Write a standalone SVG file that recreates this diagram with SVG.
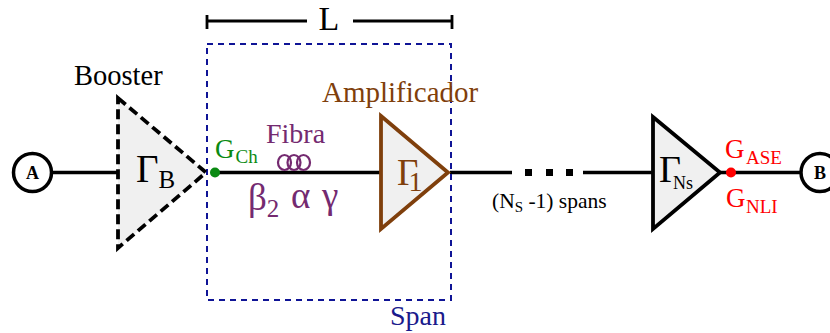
<svg xmlns="http://www.w3.org/2000/svg" width="830" height="333" viewBox="0 0 830 333">
<style>
text{font-family:"Liberation Serif","Times New Roman",serif}
.w{stroke:#000;stroke-width:3.500;fill:none}
.t{fill:#f0f0f0;stroke-width:3.800;stroke-linejoin:miter}
.c{fill:#fff;stroke:#000;stroke-width:3.500}
.lab{font-weight:bold;font-size:18px;text-anchor:middle}
.p{fill:#742a70}
.b{fill:#7f3f0c}
.r{fill:#ff0000}
.g{fill:#0a8a12}
</style>
<rect width="830" height="333" fill="#fff"/>
<g id="connectors">
<path class="w" d="M52 172.500H118M215 172.500H380M450 172.500H512M583 172.500H653M718 172.500H801"/>
<path d="M525 169h7v7h-7zM546 169h7v7h-7zM566 169h7v7h-7z" fill="#000"/>
<g fill="none" stroke="#742a70" stroke-width="2.200">
<ellipse cx="284.500" cy="162.500" rx="6.500" ry="7.500"/>
<ellipse cx="294" cy="162.500" rx="6.500" ry="7.500"/>
<ellipse cx="303.500" cy="162.500" rx="6.500" ry="7.500"/>
</g>
</g>
<g id="span">
<rect x="207" y="44" width="244" height="256" fill="none" stroke="#0f1496" stroke-width="2" stroke-dasharray="6 5"/>
<text x="390" y="325" font-size="28" fill="#1a1a8c">Span</text>
</g>
<g id="dim-L">
<path d="M207 21H307M353 21H452M207 15V29M452 15V29" stroke="#000" stroke-width="2.800" fill="none"/>
<text x="329" y="29.500" font-size="34" text-anchor="middle">L</text>
</g>
<g id="node-A">
<circle class="c" cx="32.500" cy="172.500" r="19"/>
<text class="lab" x="32.500" y="179">A</text>
</g>
<g id="booster">
<path class="t" d="M118 98L206 172.500L118 248Z" stroke="#000" stroke-dasharray="10 5"/>
<text x="74" y="85" font-size="28.500">Booster</text>
<text x="136" y="182" font-size="39">Γ<tspan font-size="25" dy="6">B</tspan></text>
</g>
<g id="gch">
<circle class="g" cx="215" cy="172.500" r="5"/>
<text class="g" x="215" y="158" font-size="27">G<tspan font-size="19" dy="5" dx="1">Ch</tspan></text>
</g>
<g id="fibra">
<text class="p" x="266" y="143" font-size="28">Fibra</text>
<text class="p" x="248" y="210" font-size="37">β<tspan font-size="25" dy="7">2</tspan></text>
<text class="p" x="291" y="208" font-size="37">α</text>
<text class="p" x="322" y="208" font-size="37">γ</text>
</g>
<g id="amplificador">
<path class="t" d="M381 116L448 172.500L381 229Z" stroke="#7f3f0c"/>
<text class="b" x="322" y="102" font-size="29">Amplificador</text>
<text class="b" x="397" y="185" font-size="37">Γ<tspan font-size="28" dy="6" dx="-10">1</tspan></text>
</g>
<g id="spans-label">
<text x="492" y="208" font-size="21.500">(N<tspan font-size="15" dy="4">S</tspan><tspan dy="-4"> -1) spans</tspan></text>
</g>
<g id="amp-ns">
<path class="t" d="M653 117L720 172.500L653 229Z" stroke="#000"/>
<text x="659" y="182" font-size="38">Γ<tspan font-size="18" dy="7" dx="-8">Ns</tspan></text>
</g>
<g id="g-out">
<circle class="r" cx="731" cy="172.500" r="5"/>
<text class="r" x="725" y="158" font-size="27">G<tspan font-size="19" dy="6" dx="1.500">ASE</tspan></text>
<text class="r" x="726" y="207" font-size="27">G<tspan font-size="19" dy="6" dx="0.500">NLI</tspan></text>
</g>
<g id="node-B">
<circle class="c" cx="820" cy="172.500" r="19"/>
<text class="lab" x="820" y="179">B</text>
</g>
</svg>
